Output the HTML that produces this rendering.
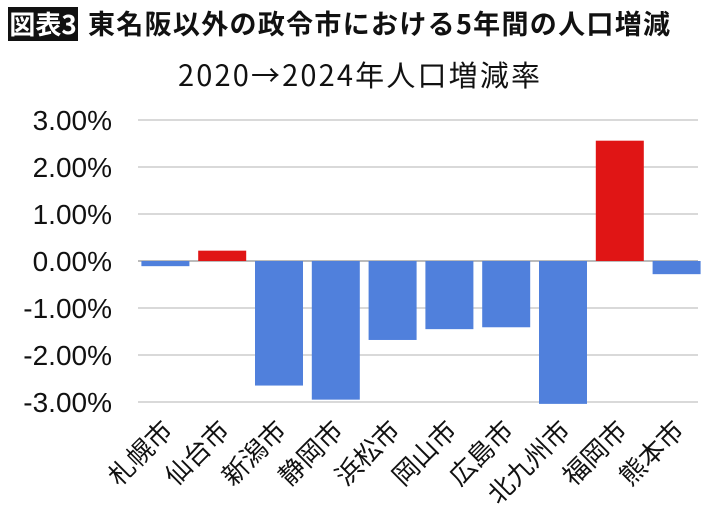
<!DOCTYPE html>
<html><head><meta charset="utf-8"><style>
body{margin:0;background:#fff;width:710px;height:518px;overflow:hidden;font-family:"Liberation Sans","Noto Sans CJK JP",sans-serif;}
</style></head><body>
<svg width="710" height="518" xmlns="http://www.w3.org/2000/svg">
<rect x="8" y="7" width="70" height="34" fill="#111"/>
<text x="43" y="34" fill="#fff" font-size="26" font-weight="bold" text-anchor="middle" font-family="Noto Sans CJK JP, sans-serif">図表3</text>
<text x="88" y="34" fill="#111" font-size="27" font-weight="bold" font-family="Noto Sans CJK JP, sans-serif" textLength="582">東名阪以外の政令市における5年間の人口増減</text>
<text x="359" y="86" fill="#111" font-size="29" text-anchor="middle" font-family="Noto Sans CJK JP, sans-serif" textLength="362">2020→2024年人口増減率</text>
<g id="grid"></g><g id="bars"></g><g id="yl"></g><g id="xl"></g>
</svg>
<script>
const categories=["札幌市","仙台市","新潟市","静岡市","浜松市","岡山市","広島市","北九州市","福岡市","熊本市"];
const values=[-0.11,0.22,-2.65,-2.95,-1.68,-1.45,-1.41,-3.04,2.56,-0.28];
const ticks=[3,2,1,0,-1,-2,-3];
const tickLabels=["3.00%","2.00%","1.00%","0.00%","-1.00%","-2.00%","-3.00%"];
const NS="http://www.w3.org/2000/svg";
const y=v=>261-v*47;
const x0=137,step=56.8,bw=48;
const xc=i=>x0+step*(i+0.5);
function mk(t,a,p){const e=document.createElementNS(NS,t);for(const k in a)e.setAttribute(k,a[k]);document.getElementById(p).appendChild(e);return e;}
ticks.forEach((t,i)=>{
 const g=mk("line",{x1:138,x2:698,y1:y(t),y2:y(t),stroke:t===0?"#bbb":"#d9d9d9","stroke-width":2},"grid");
 
 
 const l=mk("text",{x:112,y:y(t)+10,"font-size":28,"text-anchor":"end",fill:"#111"},"yl");
 l.textContent=tickLabels[i];
 
 
});
values.forEach((v,i)=>{
 const b=mk("rect",{x:xc(i)-bw/2,y:Math.min(y(v),y(0)),width:bw,height:Math.abs(y(v)-y(0)),fill:v>=0?"#e01515":"#5080dc"},"bars");
 
 
 const t=mk("text",{x:0,y:0,"font-size":26,"text-anchor":"end",fill:"#111","font-family":"Noto Sans CJK JP, sans-serif",transform:`translate(${xc(i)+9},${432}) rotate(-45)`},"xl");
 t.textContent=categories[i];
 
 
});
</script>
</body></html>
